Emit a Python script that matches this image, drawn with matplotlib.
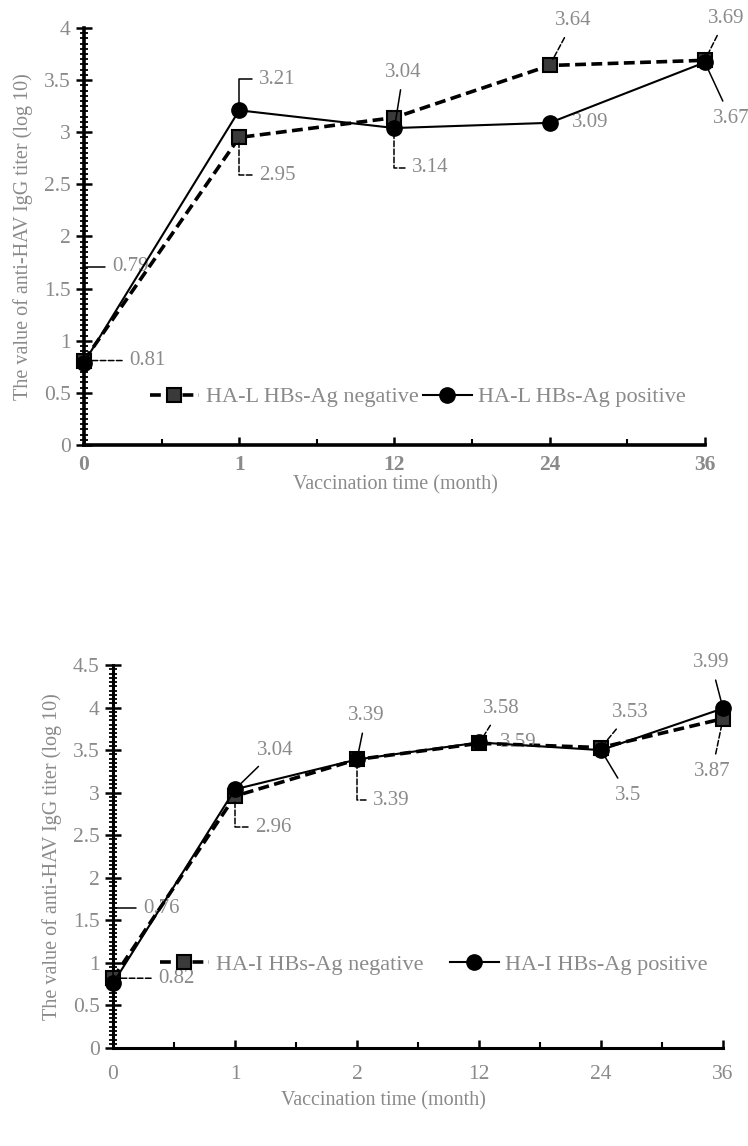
import numpy as np
import matplotlib
matplotlib.use("Agg")
import matplotlib.pyplot as plt
from matplotlib.ticker import MultipleLocator

plt.rcParams['font.family'] = ['Liberation Serif', 'DejaVu Serif']
GRAY = '#8a8a8a'

# top panel (HA-L)
months_top = ['0', '1', '12', '24', '36']
neg_top = [0.81, 2.95, 3.14, 3.64, 3.69]
pos_top = [0.79, 3.21, 3.04, 3.09, 3.67]

# bottom panel (HA-I)
months_bot = ['0', '1', '2', '12', '24', '36']
neg_bot = [0.82, 2.96, 3.39, 3.58, 3.53, 3.87]
pos_bot = [0.76, 3.04, 3.39, 3.59, 3.5, 3.99]

# label offsets in pixels (dx, dy up positive), kind of leader
lab_neg_top = [((45, 0), 'straight'), ((20, -38), 'elbow'), ((18, -50), 'elbow'),
               ((24, 45), 'diag'), ((21, 42), 'diag')]
lab_pos_top = [((28, 96), 'elbow'), ((20, 31), 'elbow'), ((9, 56), 'diag'),
               ((22, 0), 'none'), ((26, -56), 'diag')]
lab_neg_bot = [((45, 0), 'straight'), ((20, -31), 'elbow'), ((16, -41), 'elbow'),
               ((22, 35), 'diag'), ((29, 35), 'diag'), ((-11, -53), 'diag')]
lab_pos_bot = [((30, 75), 'elbow'), ((40, 39), 'diag'), ((9, 44), 'diag'),
               ((21, 0), 'none'), ((27, -45), 'diag'), ((-12, 46), 'diag')]

LBL = 15
fig = plt.figure(figsize=(7.48, 11.46), dpi=100)


def label_points(ax, vals, labs, ls):
    for i, (v, ((dx, dy), kind)) in enumerate(zip(vals, labs)):
        txt = f'{v:g}'
        if kind == 'none':
            ax.annotate(txt, (i, v), xytext=(dx, dy), textcoords='offset pixels',
                        ha='left', va='center', color=GRAY, fontsize=LBL)
        elif kind == 'straight':
            ax.annotate(txt, (i, v), xytext=(dx, dy), textcoords='offset pixels',
                        ha='left', va='center', color=GRAY, fontsize=LBL,
                        arrowprops=dict(arrowstyle='-', color='black', lw=1.1, ls=ls,
                                        shrinkA=3, shrinkB=4, relpos=(0, 0.5)))
        elif kind == 'elbow':
            ax.annotate(txt, (i, v), xytext=(dx, dy), textcoords='offset pixels',
                        ha='left', va='center', color=GRAY, fontsize=LBL,
                        arrowprops=dict(arrowstyle='-', color='black', lw=1.1, ls=ls,
                                        connectionstyle='angle,angleA=0,angleB=90,rad=0',
                                        shrinkA=3, shrinkB=4, relpos=(0, 0.5)))
        else:
            ax.annotate(txt, (i, v), xytext=(dx, dy), textcoords='offset pixels',
                        ha='center', va='center', color=GRAY, fontsize=LBL,
                        arrowprops=dict(arrowstyle='-', color='black', lw=1.1, ls=ls,
                                        shrinkA=4, shrinkB=5))


def style_axes(ax, ymax, labels, bold, lw, xpad):
    for s in ['top', 'right']:
        ax.spines[s].set_visible(False)
    for s in ['left', 'bottom']:
        ax.spines[s].set_linewidth(lw)
        ax.spines[s].set_color('black')
    ax.set_xlim(0, len(labels) - 1)
    ax.set_ylim(0, ymax)
    ax.set_xticks(range(len(labels)))
    ax.set_xticklabels(labels, fontweight='bold' if bold else 'normal')
    ax.xaxis.set_minor_locator(MultipleLocator(0.5))
    ax.yaxis.set_major_locator(MultipleLocator(0.5))
    ax.yaxis.set_minor_locator(MultipleLocator(0.05))
    ax.set_yticklabels([f'{t:g}' for t in ax.get_yticks()])
    ax.tick_params(axis='x', which='major', direction='in', length=6, width=1.8,
                   labelsize=15.5, labelcolor=GRAY, pad=xpad)
    ax.tick_params(axis='x', which='minor', direction='in', length=4, width=1.5)
    ax.tick_params(axis='y', which='major', direction='inout', length=11, width=1.8,
                   labelsize=15.5, labelcolor=GRAY, pad=4)
    ax.tick_params(axis='y', which='minor', direction='inout', length=6, width=1.3)
    ax.set_ylabel('The value of anti-HAV IgG titer (log 10)', fontsize=14.5, color=GRAY)


# ---- top chart ----
ax1 = fig.add_axes([0.1123, 0.6117, 0.830, 0.3639])
x1 = np.arange(len(months_top))
ax1.plot(x1, neg_top, color='black', lw=2.6, ls=(0, (3, 1.5)), marker='s', ms=10,
         mfc='#3a3a3a', mec='black', mew=1.5, label='HA-L HBs-Ag negative', clip_on=False, zorder=3)
ax1.plot(x1, pos_top, color='black', lw=1.5, marker='o', ms=11, mfc='black', mec='black',
         label='HA-L HBs-Ag positive', clip_on=False, zorder=4)
style_axes(ax1, 4, months_top, True, 2.6, 7)
ax1.yaxis.set_label_coords(-0.082, 0.5)
label_points(ax1, neg_top, lab_neg_top, '--')
label_points(ax1, pos_top, lab_pos_top, '-')
leg1 = ax1.legend(loc='center left', bbox_to_anchor=(150 / 748, 1 - 397 / 1146),
                  bbox_transform=fig.transFigure, ncol=2, frameon=False, fontsize=16,
                  handlelength=2.2, handletextpad=0.3, columnspacing=0.2, borderpad=0, borderaxespad=0)
for t in leg1.get_texts():
    t.set_color(GRAY)
fig.text(395 / 748, 1 - 485 / 1146, 'Vaccination time (month)', ha='center', va='center',
         fontsize=14.5, color=GRAY)

# ---- bottom chart ----
ax2 = fig.add_axes([0.1511, 0.0855, 0.8155, 0.3342])
x2 = np.arange(len(months_bot))
ax2.plot(x2, neg_bot, color='black', lw=2.6, ls=(0, (3, 1.5)), marker='s', ms=10,
         mfc='#3a3a3a', mec='black', mew=1.5, label='HA-I HBs-Ag negative', clip_on=False, zorder=3)
ax2.plot(x2, pos_bot, color='black', lw=1.5, marker='o', ms=11, mfc='black', mec='black',
         label='HA-I HBs-Ag positive', clip_on=False, zorder=4)
style_axes(ax2, 4.5, months_bot, False, 2.2, 12)
ax2.yaxis.set_label_coords(-0.084, 0.5)
label_points(ax2, neg_bot, lab_neg_bot, '--')
label_points(ax2, pos_bot, lab_pos_bot, '-')
leg2 = ax2.legend(loc='center left', bbox_to_anchor=(160 / 748, 1 - 965 / 1146),
                  bbox_transform=fig.transFigure, ncol=2, frameon=False, fontsize=16,
                  handlelength=2.2, handletextpad=0.3, columnspacing=1.2, borderpad=0, borderaxespad=0)
for t in leg2.get_texts():
    t.set_color(GRAY)
fig.text(383 / 748, 1 - 1101 / 1146, 'Vaccination time (month)', ha='center', va='center',
         fontsize=14.5, color=GRAY)

fig.savefig('out.png', dpi=100, facecolor='white')
